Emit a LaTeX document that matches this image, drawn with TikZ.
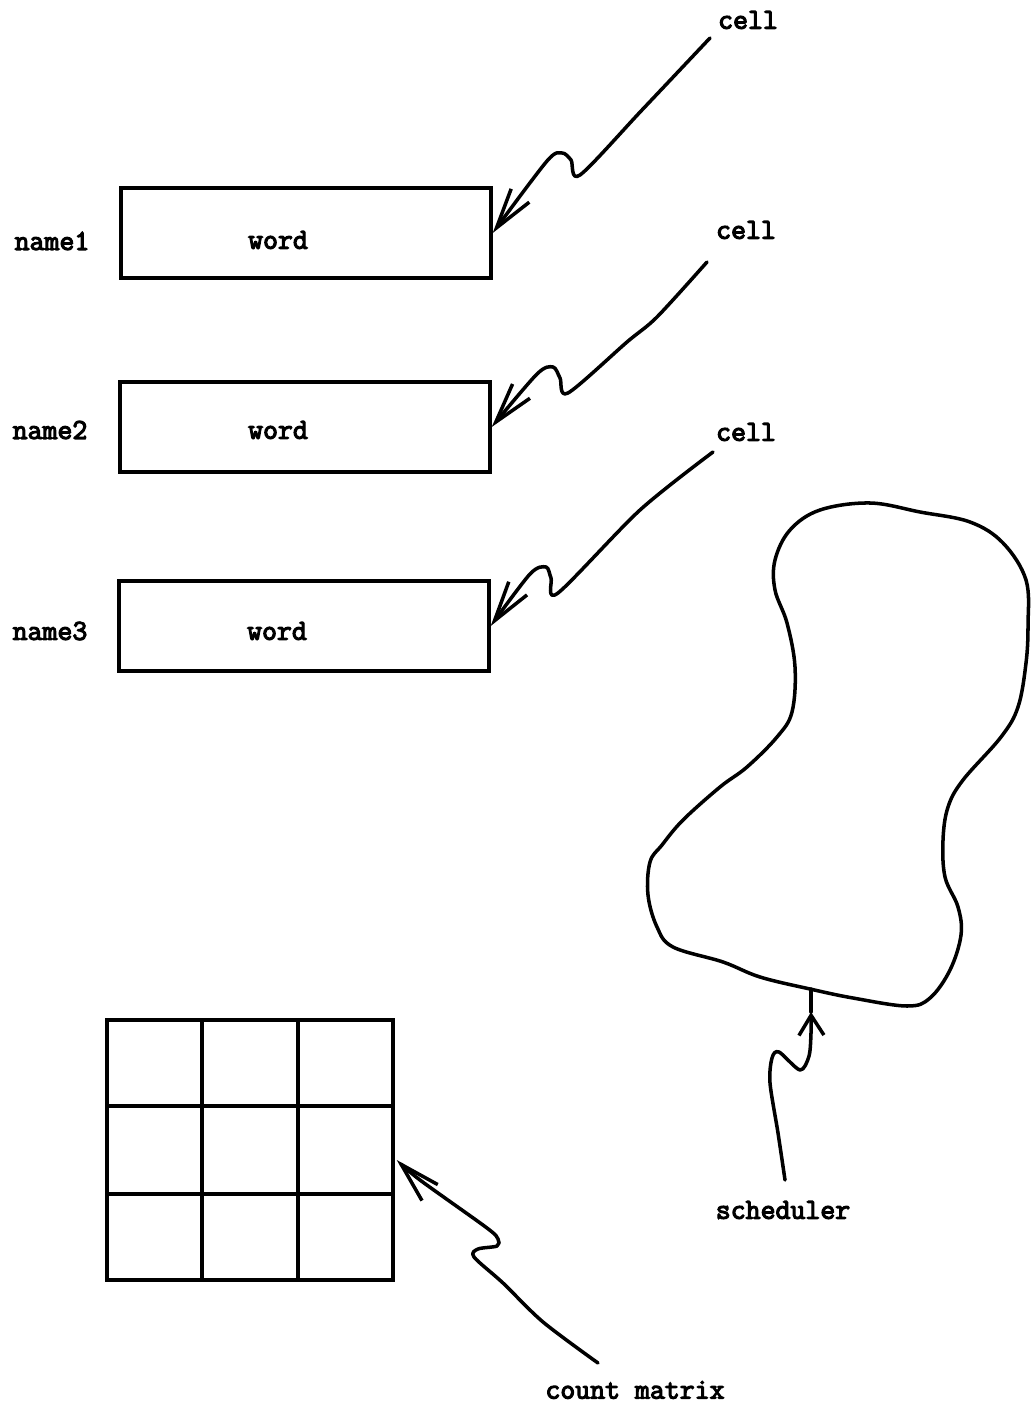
\documentclass[tikz,border=0pt]{standalone}
\usepackage{fontspec}
\newfontfamily\typewriter{Latin Modern Mono}[FakeBold=4]
\usetikzlibrary{calc,arrows.meta}

\begin{document}
\begin{tikzpicture}[x=0.02cm,y=-0.02cm,
  lbl/.style={font=\fontsize{16.5}{18}\selectfont\typewriter, inner sep=0pt},
  cellbox/.style={draw, line width=2pt, minimum width=7.4cm, minimum height=1.8cm, inner sep=0pt},
  wire/.style={line width=2pt, line cap=round, line join=round},
  barb/.style={-{Straight Barb[length=0.8cm,width=0.45cm]}},
  shortbarb/.style={-{Straight Barb[length=0.4cm,width=0.5cm]}}]

  % Page frame
  \useasboundingbox (0,0) rectangle (1030,1408);

  % Boxes and their labels
  \node[cellbox] (B1) at (306,233) {};
  \node[cellbox] (B2) at (305,427) {};
  \node[cellbox] (B3) at (304,626) {};
  \node[lbl] (W1) at (278,240) {word};
  \node[lbl] (W2) at (278,430) {word};
  \node[lbl] (W3) at (277,631) {word};
  \node[lbl] (N1) at (52,241) {name1};
  \node[lbl] (N2) at (50,430) {name2};
  \node[lbl] (N3) at (50,631) {name3};

  % Cell labels
  \node[lbl] (C1) at (748,20) {cell};
  \node[lbl] (C2) at (746,230) {cell};
  \node[lbl] (C3) at (746,432) {cell};

  % Wiggly arrows from the cell labels to the boxes
  \draw[wire, barb] plot[smooth, tension=0.5] coordinates {($(C1)+(-38,18)$)
    (642,110) (580,175) (571,160) (562,153) (547,161) (B1.east)};
  \draw[wire, barb] plot[smooth, tension=0.5] coordinates {($(C2)+(-39,32)$)
    (657,317) (627,342) (568,393) (560,378) (553,367) (537,374) (B2.east)};
  \draw[wire, barb] plot[smooth, tension=0.5] coordinates {($(C3)+(-33,20)$)
    (640,510) (558,593) (551,578) (546,567) (530,574) (B3.east)};

  % Scheduler blob
  \draw[wire] plot[smooth cycle, tension=0.6] coordinates {
    (870,503) (920,512) (970,522) (1003,543) (1026,580) (1028,625) (1026,663)
    (1018,707) (1001,737) (963,780) (948,807) (943,840) (945,877) (958,907)
    (961,935) (950,970) (930,998) (907,1006) (853,998) (810,989) (760,977)
    (723,962) (673,947) (657,927) (648,895) (650,862) (662,845) (683,820)
    (720,787) (747,767) (777,737) (792,712) (795,667) (787,623) (775,590)
    (775,560) (790,530) (820,510)};
  \coordinate (J) at (811,989);
  \coordinate (T) at (811,1012);

  % Scheduler label and arrow
  \node[lbl] (S) at (783,1210) {scheduler};
  \draw[wire, shortbarb] plot[smooth, tension=0.5] coordinates {($(S)+(2,-30)$)
    (778,1133) (770,1083) (772,1058) (779,1052) (800,1070) (809,1056) (811,1033) (T)};
  \draw[wire] (T) -- (J);

  % Count matrix
  \node[draw, line width=2pt, minimum width=5.72cm, minimum height=5.2cm, inner sep=0pt] (G) at (250,1150) {};
  \foreach \f in {1/3,2/3} {
    \draw[line width=2pt] ($(G.north west)!\f!(G.north east)$) -- ($(G.south west)!\f!(G.south east)$);
    \draw[line width=2pt] ($(G.north west)!\f!(G.south west)$) -- ($(G.north east)!\f!(G.south east)$);
  }
  \node[lbl] (M) at (635,1390) {count matrix};
  \draw[wire, barb] plot[smooth, tension=0.5] coordinates {($(M)+(-37,-27)$)
    (543,1322) (503,1283) (474,1257) (478,1249) (497,1246) (498,1239) (487,1228)
    (420,1180) ($(G.east)+(2,10)$)};

\end{tikzpicture}
\end{document}
